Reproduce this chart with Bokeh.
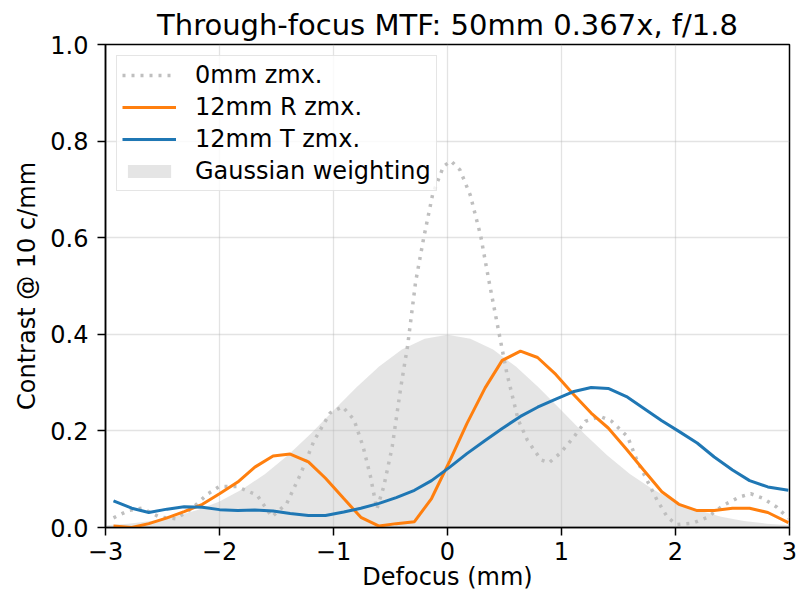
from bokeh.plotting import figure
from bokeh.models import Range1d, FixedTicker, CustomJSTickFormatter, NumeralTickFormatter, Legend, LegendItem
from bokeh.embed import file_html
from bokeh.resources import INLINE

FONT = "DejaVu Sans"

title_text = "Through-focus MTF: 50mm 0.367x, f/1.8"
x_label = "Defocus (mm)"
y_label = "Contrast @ 10 c/mm"
series_names = ["0mm zmx.", "12mm R zmx.", "12mm T zmx.", "Gaussian weighting"]

# 0mm (dotted) series
x_0mm = [-2.93, -2.8, -2.68, -2.53, -2.38, -2.24, -2.1, -2.0, -1.85, -1.67, -1.54,
         -1.41, -1.29, -1.17, -1.03, -0.92, -0.82, -0.74, -0.675, -0.62, -0.56,
         -0.485, -0.41, -0.35, -0.28, -0.21, -0.13, -0.035, 0.03, 0.11, 0.2, 0.29,
         0.36, 0.44, 0.52, 0.62, 0.70, 0.82, 0.89, 0.99, 1.11, 1.21, 1.34, 1.44,
         1.58, 1.66, 1.75, 1.84, 1.93, 2.01, 2.15, 2.28, 2.42, 2.56, 2.66, 2.77,
         2.89, 2.99]
y_0mm = [0.02, 0.035, 0.04, 0.022, 0.018, 0.04, 0.07, 0.085, 0.085, 0.067, 0.022,
         0.05, 0.11, 0.18, 0.237, 0.25, 0.223, 0.167, 0.105, 0.038, 0.084,
         0.167, 0.29, 0.376, 0.508, 0.598, 0.69, 0.748, 0.759, 0.74, 0.688, 0.605,
         0.515, 0.417, 0.32, 0.223, 0.181, 0.14, 0.134, 0.154, 0.188, 0.22, 0.23, 0.22,
         0.188, 0.14, 0.098, 0.056, 0.021, 0.006, 0.009, 0.021, 0.046, 0.063, 0.07, 0.06,
         0.042, 0.019]

# 12mm series (common defocus grid)
x_12mm = [-2.93, -2.77, -2.62, -2.46, -2.31, -2.15, -2.00, -1.84, -1.69, -1.53,
          -1.38, -1.22, -1.07, -0.91, -0.76, -0.60, -0.45, -0.29, -0.14, 0.02,
          0.17, 0.33, 0.48, 0.64, 0.79, 0.95, 1.10, 1.26, 1.41, 1.57,
          1.72, 1.88, 2.03, 2.19, 2.34, 2.50, 2.65, 2.81, 2.99]
y_12mm_R = [0.003, 0.0, 0.008, 0.02, 0.033, 0.048, 0.07, 0.094, 0.125, 0.148,
            0.152, 0.136, 0.102, 0.06, 0.021, 0.003, 0.008, 0.012, 0.06, 0.138,
            0.215, 0.289, 0.346, 0.365, 0.352, 0.317, 0.277, 0.237, 0.206, 0.162,
            0.119, 0.074, 0.048, 0.035, 0.035, 0.04, 0.04, 0.031, 0.01]
y_12mm_T = [0.055, 0.04, 0.031, 0.038, 0.043, 0.042, 0.037, 0.035, 0.036, 0.034,
            0.029, 0.025, 0.025, 0.032, 0.04, 0.05, 0.062, 0.077, 0.097, 0.125,
            0.153, 0.18, 0.205, 0.23, 0.249, 0.266, 0.281, 0.29, 0.288, 0.271,
            0.247, 0.221, 0.199, 0.175, 0.146, 0.119, 0.097, 0.084, 0.077]

# Gaussian weighting
x_gauss = [-3.0, -2.8, -2.6, -2.4, -2.2, -2.0, -1.8, -1.6, -1.4, -1.2, -1.0, -0.8, -0.6,
           -0.4, -0.2, 0.0, 0.2, 0.4, 0.6, 0.8, 1.0, 1.2, 1.4, 1.6, 1.8, 2.0, 2.2,
           2.4, 2.6, 2.8, 3.0]
y_gauss = [0.0044, 0.0079, 0.0136, 0.0224, 0.0355, 0.0540, 0.0790, 0.1109, 0.1497,
           0.1942, 0.2420, 0.2897, 0.3332, 0.3683, 0.3910, 0.3989, 0.3910, 0.3683,
           0.3332, 0.2897, 0.2420, 0.1942, 0.1497, 0.1109, 0.0790, 0.0540, 0.0355,
           0.0224, 0.0136, 0.0079, 0.0044]

x_ticks = [-3, -2, -1, 0, 1, 2, 3]
y_ticks = [0.0, 0.2, 0.4, 0.6, 0.8, 1.0]

p = figure(width=797, height=594, output_backend="svg", toolbar_location=None,
           x_range=Range1d(-3, 3), y_range=Range1d(0, 1),
           min_border_left=105, min_border_right=8, min_border_top=44, min_border_bottom=67)

p.title.text = title_text
p.title.align = "center"
p.title.text_font = FONT
p.title.text_font_size = "29px"
p.title.text_font_style = "normal"
p.title.text_color = "black"
p.title.standoff = 6

p.outline_line_color = "black"
p.outline_line_width = 1.5
p.outline_line_alpha = 1.0
p.background_fill_color = "white"
p.border_fill_color = "white"

for ax in (p.xaxis[0], p.yaxis[0]):
    ax.axis_line_color = "black"
    ax.axis_line_width = 1.5
    ax.major_tick_line_color = "black"
    ax.major_tick_line_width = 1.5
    ax.major_tick_out = 8
    ax.major_tick_in = 0
    ax.minor_tick_line_color = None
    ax.major_label_text_font = FONT
    ax.major_label_text_font_size = "24px"
    ax.major_label_text_color = "black"
    ax.axis_label_text_font = FONT
    ax.axis_label_text_font_size = "24px"
    ax.axis_label_text_font_style = "normal"
    ax.axis_label_text_color = "black"

p.xaxis.ticker = FixedTicker(ticks=x_ticks)
p.xaxis.formatter = CustomJSTickFormatter(code="return tick < 0 ? '\\u2212' + Math.abs(tick) : String(tick);")
p.xaxis.axis_label = x_label
p.xaxis.major_label_standoff = 6
p.xaxis.axis_label_standoff = 0

p.yaxis.ticker = FixedTicker(ticks=y_ticks)
p.yaxis.formatter = NumeralTickFormatter(format="0.0")
p.yaxis.axis_label = y_label
p.yaxis.major_label_standoff = 9
p.yaxis.axis_label_standoff = 6

p.xgrid.ticker = FixedTicker(ticks=x_ticks)
p.ygrid.ticker = FixedTicker(ticks=y_ticks)
for g in (p.xgrid[0], p.ygrid[0]):
    g.grid_line_color = "#b0b0b0"
    g.grid_line_alpha = 0.35
    g.grid_line_width = 1.3

r_gauss = p.varea(x=x_gauss, y1=[0] * len(x_gauss), y2=y_gauss,
                  fill_color="#bfbfbf", fill_alpha=0.4)
r_0 = p.line(x_0mm, y_0mm, line_color="#bfbfbf", line_width=3.5, line_dash="3 6")
r_R = p.line(x_12mm, y_12mm_R, line_color="#ff7f0e", line_width=3)
r_T = p.line(x_12mm, y_12mm_T, line_color="#1f77b4", line_width=3)

legend = Legend(items=[
    LegendItem(label=series_names[0], renderers=[r_0]),
    LegendItem(label=series_names[1], renderers=[r_R]),
    LegendItem(label=series_names[2], renderers=[r_T]),
    LegendItem(label=series_names[3], renderers=[r_gauss]),
], location="top_left")
legend.margin = 11
legend.padding = 5
legend.spacing = 4
legend.glyph_width = 54
legend.glyph_height = 16
legend.label_height = 24
legend.label_standoff = 19
legend.label_text_font = FONT
legend.label_text_font_size = "24px"
legend.label_text_color = "black"
legend.border_line_color = "#cccccc"
legend.border_line_width = 1.5
legend.background_fill_color = "white"
legend.background_fill_alpha = 0.8
p.add_layout(legend)

open("out.html", "w").write(file_html(p, INLINE))
